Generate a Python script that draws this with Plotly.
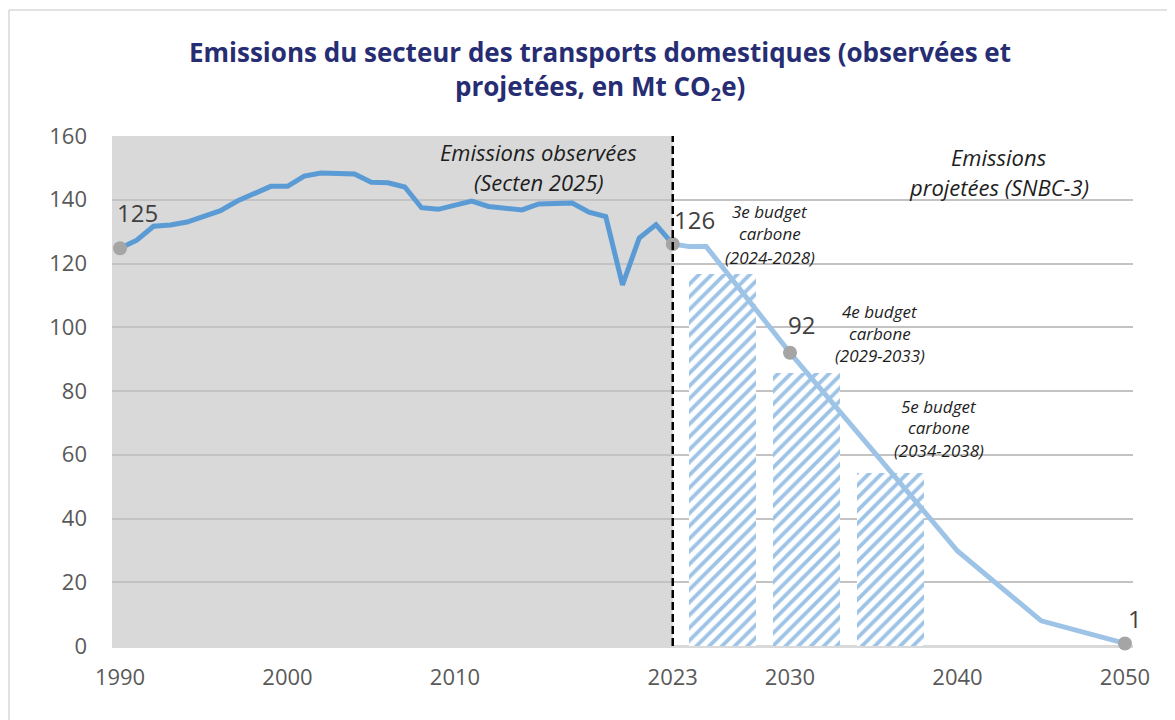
import plotly.graph_objects as go

# ---------------- data ----------------
obs_years = list(range(1990, 2024))
obs_values = [124.8, 127.3, 131.7, 132.1, 133.0, 134.7, 136.6, 139.6, 141.9, 144.2,
              144.2, 147.4, 148.4, 148.1, 148.1, 145.5, 145.3, 144.0, 137.5, 137.0,
              138.2, 139.6, 137.9, 137.5, 136.8, 138.7, 139.0, 139.0, 136.1, 134.7,
              113.3, 128.0, 132.2, 126.1]

proj_years = [2023, 2024, 2025, 2030, 2035, 2040, 2045, 2050]
proj_values = [126.1, 125.3, 125.3, 92.0, 61.0, 29.8, 7.9, 0.8]

budget_centers = [2026, 2031, 2036]
budget_values = [116.7, 85.7, 54.4]
budget_names = ["3e budget", "4e budget", "5e budget"]
budget_periods = ["2024-2028", "2029-2033", "2034-2038"]

highlight_years = [1990, 2023, 2030, 2050]

x_ticks = [1990, 2000, 2010, 2023, 2030, 2040, 2050]
y_ticks = [0, 20, 40, 60, 80, 100, 120, 140, 160]

# ---------------- style ----------------
FONT = "Open Sans, Lato, sans-serif"
TICK_COL = "#595959"
OBS_COL = "#5b9bd5"
PROJ_COL = "#9dc3e6"
GRID_COL = "#c3c3c3"
TITLE_COL = "#272d73"
X_RANGE = [1989.52, 2050.48]
Y_RANGE = [0, 160]

fig = go.Figure()

fig.add_trace(go.Bar(
    x=budget_centers, y=budget_values, width=4,
    marker=dict(color="white", line=dict(width=0),
                pattern=dict(shape="/", fgcolor=PROJ_COL, bgcolor="white",
                             size=9, solidity=0.42, fillmode="replace")),
    hoverinfo="skip", showlegend=False))

fig.add_trace(go.Scatter(
    x=obs_years, y=obs_values, mode="lines",
    line=dict(color=OBS_COL, width=5), showlegend=False, cliponaxis=False))

fig.add_trace(go.Scatter(
    x=proj_years, y=proj_values, mode="lines",
    line=dict(color=PROJ_COL, width=5), showlegend=False, cliponaxis=False))

all_pts = dict(zip(obs_years, obs_values))
all_pts.update(dict(zip(proj_years, proj_values)))
hl_values = [all_pts[y] for y in highlight_years]

fig.add_trace(go.Scatter(
    x=highlight_years, y=hl_values, mode="markers",
    marker=dict(color="#a5a5a5", size=14), showlegend=False, cliponaxis=False))

# value labels near highlighted points
label_shift = {1990: (17, 36), 2023: (22, 25), 2030: (12, 28), 2050: (10, 25)}
annotations = []
for yr, v in zip(highlight_years, hl_values):
    dx, dy = label_shift[yr]
    annotations.append(dict(x=yr, y=v, xref="x", yref="y", text=f"{round(v)}",
                            showarrow=False, xshift=dx, yshift=dy,
                            font=dict(family=FONT, size=24, color="#404040")))

# section labels
def add_lines(lines, x, ys, size):
    for t, yy in zip(lines, ys):
        annotations.append(dict(x=x, y=yy, xref="x", yref="y", text=f"<i>{t}</i>",
                                showarrow=False, xanchor="center", yanchor="middle",
                                font=dict(family=FONT, size=size, color="#1e1e1e")))

add_lines(["Emissions observées", "(Secten 2025)"], 2015.0, [155.0, 145.6], 22)
add_lines(["Emissions", "projetées (SNBC-3)"], 2042.5, [153.4, 144.0], 22)

budget_label_pos = [(2028.8, [136.2, 129.3, 122.0]),
                    (2035.4, [104.8, 98.0, 91.2]),
                    (2038.9, [75.0, 68.5, 61.4])]
for name, per, (bx, bys) in zip(budget_names, budget_periods, budget_label_pos):
    add_lines([name, "carbone", f"({per})"], bx, bys, 17)

# title (two lines)
annotations.append(dict(x=0.478, y=1.1647, xref="paper", yref="paper",
                        text="<b>Emissions du secteur des transports domestiques (observées et</b>",
                        showarrow=False, xanchor="center", yanchor="middle",
                        font=dict(family=FONT, size=26, color=TITLE_COL)))
annotations.append(dict(x=0.478, y=1.096, xref="paper", yref="paper",
                        text="<b>projetées, en Mt CO<sub>2</sub>e)</b>",
                        showarrow=False, xanchor="center", yanchor="middle",
                        font=dict(family=FONT, size=26, color=TITLE_COL)))

shapes = [
    # observed period shading
    dict(type="rect", xref="x", yref="y", x0=X_RANGE[0], x1=2023, y0=0, y1=160,
         fillcolor="#d9d9d9", line=dict(width=0), layer="below"),
    # 2023 separator
    dict(type="line", xref="x", yref="y", x0=2023, x1=2023, y0=0, y1=160,
         line=dict(color="black", width=2.5, dash="8px,4px"), layer="above"),
    # outer frame (top and left edges)
    dict(type="line", xref="paper", yref="paper", x0=-0.1009, x1=1.05, y0=1.247, y1=1.247,
         line=dict(color="#d9d9d9", width=1.5)),
    dict(type="line", xref="paper", yref="paper", x0=-0.1009, x1=-0.1009, y0=-0.2, y1=1.247,
         line=dict(color="#d9d9d9", width=1.5)),
]

# page body adds an 8px offset; size figure so the plot area lands where the reference has it
fig.update_layout(
    width=1167, height=712,
    margin=dict(l=104, r=42, t=128, b=74),
    paper_bgcolor="white", plot_bgcolor="white",
    showlegend=False, bargap=0,
    annotations=annotations, shapes=shapes,
    xaxis=dict(range=X_RANGE, tickmode="array", tickvals=x_ticks,
               ticktext=[str(t) for t in x_ticks], showgrid=False, zeroline=False,
               showline=False, ticks="", ticklabelstandoff=16,
               tickfont=dict(family=FONT, size=22, color=TICK_COL)),
    yaxis=dict(range=Y_RANGE, tickmode="array", tickvals=y_ticks,
               showgrid=True, gridcolor=GRID_COL, gridwidth=1.8,
               zeroline=True, zerolinecolor="#d9d9d9", zerolinewidth=2.5,
               showline=False, ticks="", ticklabelstandoff=24,
               tickfont=dict(family=FONT, size=22, color=TICK_COL)),
)

fig.write_html("out.html")
